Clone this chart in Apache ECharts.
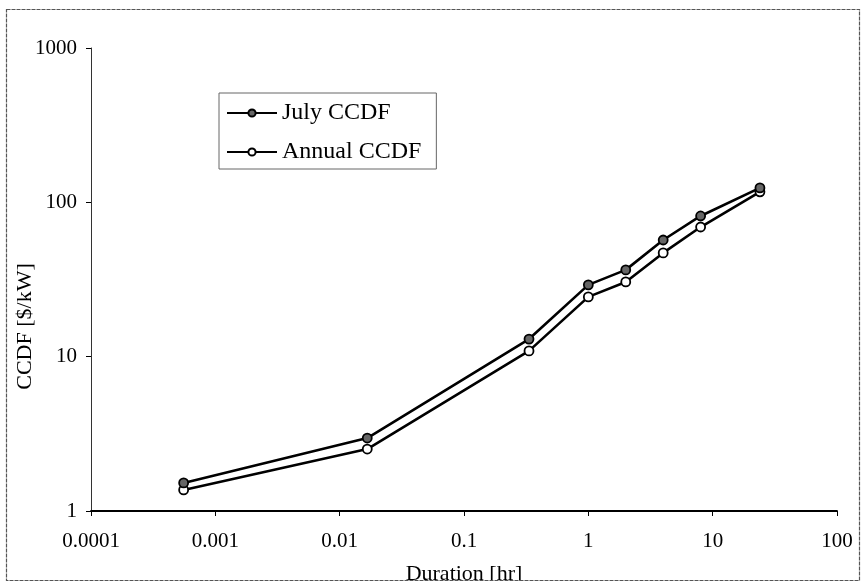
<!DOCTYPE html>
<html><head><meta charset="utf-8">
<script src="https://cdn.jsdelivr.net/npm/echarts@6/dist/echarts.min.js"></script>
<style>html,body{margin:0;padding:0;background:#fff}#c{width:863px;height:584px}</style>
</head><body><div id="c"></div>
<script>
const durations = [0.000556, 0.01667, 0.3333, 1, 2, 4, 8, 24];
const julyCCDF = [1.52, 2.97, 13.0, 29.2, 36.5, 57, 81.6, 124];
const annualCCDF = [1.37, 2.52, 10.9, 24.4, 30.5, 47, 69.2, 117];
const seriesNames = ['July CCDF', 'Annual CCDF'];
const xTitle = 'Duration [hr]';
const yTitle = 'CCDF [$/kW]';

const font = '"Liberation Serif", "Times New Roman", serif';
const fmt = v => String(Number(Number(v).toPrecision(2)));
const chart = echarts.init(document.getElementById('c'));
chart.setOption({
  animation: false,
  backgroundColor: '#fff',
  textStyle: {fontFamily: font, color: '#000'},
  graphic: [
    {type: 'rect', z: 100, shape: {x: 0, y: 580.5, width: 863, height: 4}, style: {fill: '#fff'}, silent: true},
    {type: 'rect', z: 101, shape: {x: 6.5, y: 9.5, width: 853, height: 571},
     style: {fill: 'none', stroke: '#555', lineWidth: 1.2, lineDash: [4, 1]}, silent: true}
  ],
  grid: {left: 91, right: 26, top: 48, bottom: 73, outerBoundsMode: 'none', containLabel: false},
  legend: {
    left: 219, top: 93, orient: 'vertical',
    padding: [8, 15, 5, 7], itemGap: 15,
    borderColor: '#666', borderWidth: 1,
    itemWidth: 50, itemHeight: 9,
    textStyle: {fontFamily: font, fontSize: 24, color: '#000'},
    data: seriesNames
  },
  xAxis: {
    type: 'log', logBase: 10, min: 0.0001, max: 100,
    name: xTitle, nameLocation: 'middle', nameGap: 52, nameMoveOverlap: false,
    nameTextStyle: {fontFamily: font, fontSize: 22, color: '#000'},
    axisLine: {lineStyle: {color: '#000', width: 1.8}},
    axisTick: {show: true, length: 5, lineStyle: {color: '#000'}},
    minorTick: {show: false},
    splitLine: {show: false},
    axisLabel: {fontFamily: font, fontSize: 21, color: '#000', margin: 20, formatter: fmt}
  },
  yAxis: {
    type: 'log', logBase: 10, min: 1, max: 1000,
    name: yTitle, nameLocation: 'middle', nameGap: 55, nameRotate: 90, nameMoveOverlap: false,
    nameTextStyle: {fontFamily: font, fontSize: 22, color: '#000', padding: [0, 94, 0, 0]},
    axisLine: {show: true, lineStyle: {color: '#333', width: 1}},
    axisTick: {show: true, length: 5, lineStyle: {color: '#000'}},
    splitLine: {show: false},
    axisLabel: {fontFamily: font, fontSize: 21, color: '#000', margin: 14, formatter: fmt}
  },
  series: [
    {name: seriesNames[0], type: 'line', data: durations.map((d, i) => [d, julyCCDF[i]]),
     symbol: 'circle', symbolSize: 9, z: 3,
     lineStyle: {color: '#000', width: 2.6},
     itemStyle: {color: '#666', borderColor: '#000', borderWidth: 1.8}},
    {name: seriesNames[1], type: 'line', data: durations.map((d, i) => [d, annualCCDF[i]]),
     symbol: 'circle', symbolSize: 9, z: 2,
     lineStyle: {color: '#000', width: 2.6},
     itemStyle: {color: '#fff', borderColor: '#000', borderWidth: 1.8}}
  ]
});
</script></body></html>
